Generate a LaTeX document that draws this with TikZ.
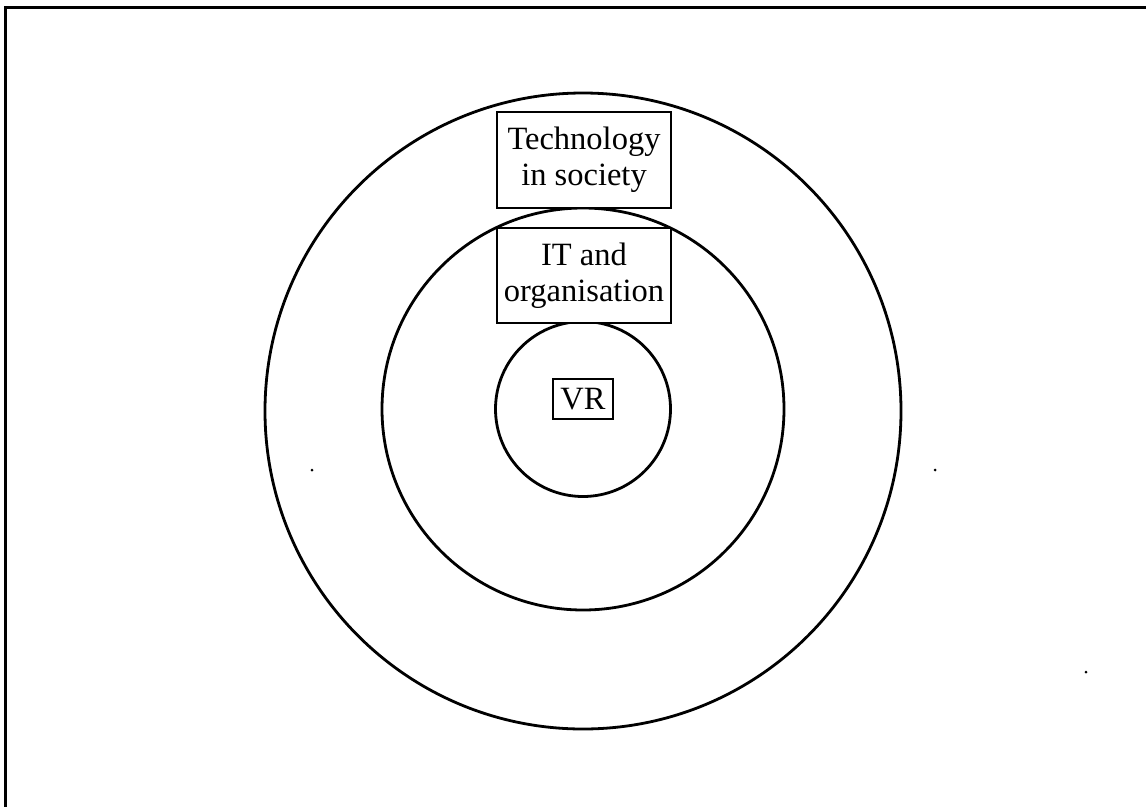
\documentclass[tikz,border=0pt]{standalone}
\usepackage{fontspec}
\setmainfont{Liberation Serif}
\begin{document}
\begin{tikzpicture}[x=1pt,y=-1pt,
  ring/.style={circle,draw=black,line width=2.8pt,inner sep=0pt},
  label box/.style={draw=black,line width=2.6pt,fill=white,inner sep=0pt,align=center,
    font=\fontsize{32.5}{36}\selectfont},
  speck/.style={circle,fill=black,inner sep=0pt,minimum size=3pt}]
\useasboundingbox (0,0) rectangle (1146,807);
\coordinate (frameTR) at (1146,7);
\coordinate (frameTL) at (5,7);
\coordinate (frameBL) at (5,807);
\draw[line width=3pt] (frameTR) -- (frameTL) -- (frameBL);
\node[ring,minimum size=636pt] (outer) at (583,411) {};
\node[ring,minimum size=402pt] (middle) at (583,409) {};
\node[ring,minimum size=175pt] (inner) at (583,409) {};
\node[label box,minimum width=174pt,minimum height=96pt] (tech) at (584,160) {Technology\\in society};
\node[label box,minimum width=174pt,minimum height=95pt] (it) at (584,275.5) {IT and\\organisation};
\node[label box,minimum width=60pt,minimum height=40pt] (vr) at (583,399) {VR};
\node[speck] (s1) at (312,470) {};
\node[speck] (s2) at (935,470) {};
\node[speck] (s3) at (1086,672) {};
\end{tikzpicture}
\end{document}
